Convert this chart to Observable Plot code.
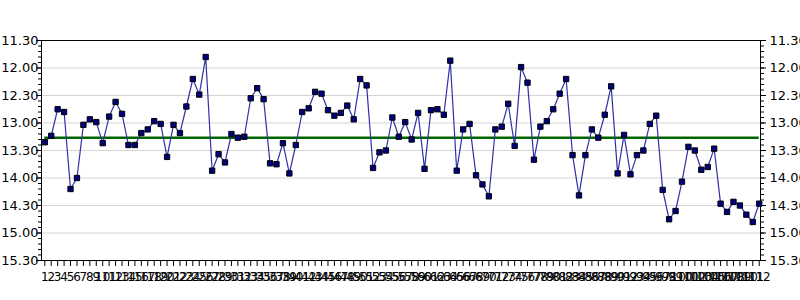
<!DOCTYPE html>
<html><head><meta charset="utf-8">
<script src="https://cdn.jsdelivr.net/npm/d3@7"></script>
<script src="https://cdn.jsdelivr.net/npm/@observablehq/plot@0.6"></script>
<style>html,body{margin:0;padding:0;background:#fff} svg{display:block}</style>
</head><body><div id="chart"></div>
<script>
// Lap times in seconds (e.g. 796 = 13.16)
const times = [801,794,765,768,852,840,782,776,779,802,773,757,770,804,804,791,787,778,781,817,
782,791,762,732,749,708,832,814,823,792,796,795,753,742,754,824,825,802,835,804,
768,764,746,748,766,772,769,761,776,732,739,829,812,810,774,795,779,798,769,830,
766,765,771,712,832,787,781,837,847,860,787,784,759,805,719,736,820,784,778,765,
748,732,815,859,815,787,796,771,740,835,793,836,815,810,781,772,853,885,876,844,
806,810,831,828,808,868,877,866,870,880,888,868];
const runs = times.map((_, i) => i + 1);
const meanTime = 796;
const majorTicks = [690,720,750,780,810,840,870,900,930];
const minorTicks = d3.range(690, 931, 6);
const fmt = s => `${Math.floor(s / 60)}.${String(s % 60).padStart(2, "0")}`;
const data = runs.map((r, i) => ({run: r, t: times[i]}));

const chart = Plot.plot({
  width: 800, height: 300,
  marginLeft: 41, marginRight: 40, marginTop: 40, marginBottom: 40,
  style: {fontFamily: "DejaVu Sans", fontSize: "13px", background: "white", color: "black"},
  x: {domain: [0.49, 112.2]},
  y: {domain: [690, 930], reverse: true},
  marks: [
    Plot.gridY(majorTicks.slice(1, -1), {stroke: "#d4d4d4", strokeOpacity: 1}),
    Plot.axisY({anchor: "left", ticks: minorTicks, tickSize: 3, tickFormat: () => "", label: null}),
    Plot.axisY({anchor: "right", ticks: minorTicks, tickSize: 3, tickFormat: () => "", label: null}),
    Plot.axisY({anchor: "left", ticks: majorTicks, tickSize: 5, tickPadding: -2, tickFormat: fmt, label: null, fontSize: 13}),
    Plot.axisY({anchor: "right", ticks: majorTicks, tickSize: 5, tickPadding: 4, tickFormat: fmt, label: null, fontSize: 13}),
    Plot.axisX({ticks: runs, tickSize: 6, tickPadding: 6, tickFormat: d => String(d), label: null, fontSize: 12}),
    Plot.frame({stroke: "black"}),
    Plot.ruleY([meanTime], {x1: 1, x2: runs.length, stroke: "#006400", strokeWidth: 2.5}),
    Plot.line(data, {x: "run", y: "t", stroke: "#3030a8", strokeWidth: 1.2}),
    Plot.dot(data, {x: "run", y: "t", symbol: "square", r: 3, fill: "#000080", stroke: "black", strokeWidth: 1})
  ]
});
document.getElementById("chart").appendChild(chart);
</script>
</body></html>
